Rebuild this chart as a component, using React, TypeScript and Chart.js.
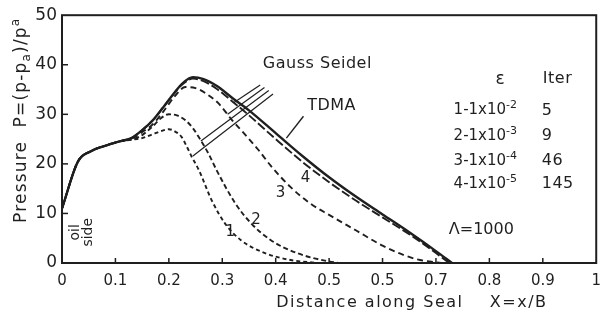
import React, { useEffect, useRef } from "react";
import { Chart, registerables } from "chart.js";

Chart.register(...registerables);

const INK = "#1f1f1f";
const FONT = "'DejaVu Sans', 'Liberation Sans', sans-serif";

// axis ticks
const xTickValues = [0, 0.1, 0.2, 0.3, 0.4, 0.5, 0.6, 0.7, 0.8, 0.9, 1];
const xTickLabels = ["0", "0.1", "0.2", "0.3", "0.4", "0.5", "0.5", "0.7", "0.8", "0.9", "1"];
const yTickValues = [0, 10, 20, 30, 40, 50];

// TDMA (solid)
const tdmaX = [0, 0.03, 0.055, 0.085, 0.11, 0.13, 0.15, 0.17, 0.19, 0.21, 0.225, 0.245, 0.265, 0.29, 0.32, 0.35, 0.4, 0.45, 0.5, 0.55, 0.6, 0.65, 0.7, 0.73];
const tdmaY = [11, 20.5, 22.6, 23.8, 24.6, 25.2, 26.8, 28.8, 31.5, 34.3, 36.2, 37.5, 37.1, 35.7, 33.2, 30.8, 26.2, 21.6, 17.3, 13.4, 9.8, 6.2, 2.4, 0];

// Gauss Seidel, curve 4 (eps 1e-5)
const gs4X = [0, 0.03, 0.055, 0.085, 0.11, 0.13, 0.15, 0.17, 0.19, 0.21, 0.225, 0.245, 0.265, 0.29, 0.32, 0.35, 0.4, 0.45, 0.5, 0.55, 0.6, 0.65, 0.7, 0.725];
const gs4Y = [11, 20.5, 22.6, 23.8, 24.6, 25.2, 26.8, 28.8, 31.5, 34.2, 36.0, 37.2, 36.7, 35.1, 32.5, 29.8, 25.0, 20.4, 16.3, 12.6, 9.2, 5.8, 2.0, 0];

// curve 3 (eps 1e-4)
const gs3X = [0, 0.03, 0.055, 0.085, 0.11, 0.13, 0.15, 0.17, 0.19, 0.21, 0.231, 0.25, 0.268, 0.293, 0.317, 0.342, 0.367, 0.391, 0.428, 0.465, 0.5, 0.55, 0.6, 0.64, 0.67, 0.71];
const gs3Y = [11, 20.5, 22.6, 23.8, 24.6, 25.1, 26.4, 28.0, 30.6, 33.5, 35.5, 35.3, 34.3, 32.2, 29.0, 26.0, 22.9, 19.6, 15.3, 12.0, 9.7, 6.6, 3.5, 1.6, 0.6, 0];

// curve 2 (eps 1e-3)
const gs2X = [0, 0.03, 0.055, 0.085, 0.11, 0.13, 0.15, 0.17, 0.185, 0.2, 0.215, 0.231, 0.245, 0.256, 0.274, 0.29, 0.324, 0.354, 0.391, 0.44, 0.5, 0.52];
const gs2Y = [11, 20.5, 22.6, 23.8, 24.6, 24.9, 25.8, 27.6, 29.2, 30.0, 29.8, 28.8, 27.2, 25.4, 22.1, 18.6, 12.1, 8.0, 4.6, 2.0, 0.3, 0];

// curve 1 (eps 1e-2)
const gs1X = [0, 0.03, 0.055, 0.085, 0.11, 0.13, 0.15, 0.17, 0.185, 0.2, 0.215, 0.224, 0.233, 0.243, 0.256, 0.28, 0.305, 0.335, 0.38, 0.428, 0.48];
const gs1Y = [11, 20.5, 22.6, 23.8, 24.6, 24.9, 25.2, 26.0, 26.6, 27.0, 26.3, 25.4, 23.6, 21.4, 18.8, 12.7, 8.0, 4.6, 2.0, 0.6, 0];

// legend table
const legendEps = ["1-1x10", "2-1x10", "3-1x10", "4-1x10"];
const legendExp = ["-2", "-3", "-4", "-5"];
const legendIter = ["5", "9", "46", "145"];

// curve number labels and their anchor points (data units)
const curveNames = ["1", "2", "3", "4"];
const curveNameX = [0.315, 0.363, 0.409, 0.456];
const curveNameY = [6.3, 8.7, 14.1, 17.1];

// leader lines from "Gauss Seidel" to curves, in data units
const leaderX1 = [0.245, 0.26, 0.31, 0.322];
const leaderY1 = [21.6, 24.6, 30.0, 32.4];
const leaderX2 = [0.395, 0.387, 0.379, 0.371];
const leaderY2 = [34.1, 34.8, 35.4, 35.9];

// TDMA pointer
const tdmaPointerX = [0.42, 0.452];
const tdmaPointerY = [25.2, 29.6];

const pts = (xs: number[], ys: number[]) => xs.map((x, i) => ({ x, y: ys[i] }));

type Run = { t: string; dy?: number; s?: number };

function drawRuns(
  ctx: CanvasRenderingContext2D,
  runs: Run[],
  x: number,
  y: number,
  size: number,
  align: "left" | "center",
  spacing = 0
) {
  (ctx as any).letterSpacing = `${spacing}px`;
  const widths = runs.map((r) => {
    ctx.font = `${Math.round(size * (r.s ?? 1))}px ${FONT}`;
    return ctx.measureText(r.t).width;
  });
  const total = widths.reduce((a, b) => a + b, 0);
  let cx = align === "center" ? x - total / 2 : x;
  ctx.textAlign = "left";
  ctx.textBaseline = "middle";
  runs.forEach((r, i) => {
    ctx.font = `${Math.round(size * (r.s ?? 1))}px ${FONT}`;
    ctx.fillText(r.t, cx, y + (r.dy ?? 0) * size);
    cx += widths[i];
  });
  (ctx as any).letterSpacing = "0px";
}

const decorPlugin = {
  id: "decor",
  afterDraw(chart: any) {
    const ctx: CanvasRenderingContext2D = chart.ctx;
    const { left, right, top, bottom } = chart.chartArea;
    const xs = chart.scales.x;
    const ys = chart.scales.y;
    const px = (v: number) => xs.getPixelForValue(v);
    const py = (v: number) => ys.getPixelForValue(v);
    ctx.save();
    ctx.strokeStyle = INK;
    ctx.fillStyle = INK;
    ctx.setLineDash([]);

    // frame
    ctx.lineWidth = 2;
    ctx.strokeRect(left, top, right - left, bottom - top);

    // inner ticks
    ctx.lineWidth = 1.5;
    xTickValues.slice(1, -1).forEach((v) => {
      ctx.beginPath();
      ctx.moveTo(px(v), bottom);
      ctx.lineTo(px(v), bottom - 5);
      ctx.stroke();
    });
    yTickValues.slice(1, -1).forEach((v) => {
      ctx.beginPath();
      ctx.moveTo(left, py(v));
      ctx.lineTo(left + 6, py(v));
      ctx.stroke();
    });

    // leader lines
    ctx.lineWidth = 1.2;
    leaderX1.forEach((_, i) => {
      ctx.beginPath();
      ctx.moveTo(px(leaderX1[i]), py(leaderY1[i]));
      ctx.lineTo(px(leaderX2[i]), py(leaderY2[i]));
      ctx.stroke();
    });
    ctx.lineWidth = 1.4;
    ctx.beginPath();
    ctx.moveTo(px(tdmaPointerX[0]), py(tdmaPointerY[0]));
    ctx.lineTo(px(tdmaPointerX[1]), py(tdmaPointerY[1]));
    ctx.stroke();

    // texts
    drawRuns(ctx, [{ t: "Gauss Seidel" }], px(0.376), py(40.1), 16, "left", 0.5);
    drawRuns(ctx, [{ t: "TDMA" }], px(0.459), py(31.7), 16, "left", 0.5);
    curveNames.forEach((n, i) => drawRuns(ctx, [{ t: n }], px(curveNameX[i]), py(curveNameY[i]), 15, "center"));

    drawRuns(ctx, [{ t: "ε" }], px(0.82), py(37.1), 17, "center");
    drawRuns(ctx, [{ t: "Iter" }], px(0.9), py(37.1), 16, "left", 0.5);
    const rowY = [30.8, 25.6, 20.6, 15.9];
    legendEps.forEach((e, i) => {
      drawRuns(ctx, [{ t: e }, { t: legendExp[i], dy: -0.35, s: 0.72 }], px(0.733), py(rowY[i]), 15, "left");
      drawRuns(ctx, [{ t: legendIter[i] }], px(0.898), py(rowY[i]), 16, "left", 0.5);
    });
    drawRuns(ctx, [{ t: "Λ=1000" }], px(0.724), py(6.7), 16, "left");

    // "oil side"
    ctx.save();
    ctx.translate(px(0.025), py(6.2));
    ctx.rotate(-Math.PI / 2);
    drawRuns(ctx, [{ t: "oil" }], 0, 0, 14, "center");
    ctx.restore();
    ctx.save();
    ctx.translate(px(0.049), py(6.2));
    ctx.rotate(-Math.PI / 2);
    drawRuns(ctx, [{ t: "side" }], 0, 0, 14, "center");
    ctx.restore();

    // axis titles
    ctx.save();
    ctx.translate(left - 40, py(28.8));
    ctx.rotate(-Math.PI / 2);
    drawRuns(
      ctx,
      [
        { t: "Pressure  P=(p-p" },
        { t: "a", dy: 0.3, s: 0.7 },
        { t: ")/p" },
        { t: "a", dy: -0.35, s: 0.7 },
      ],
      0,
      0,
      17,
      "center",
      1.2
    );
    ctx.restore();
    drawRuns(ctx, [{ t: "Distance along Seal    X=x/B" }], px(0.655), bottom + 40, 16, "center", 1.5);

    ctx.restore();
  },
};

export default function App() {
  const ref = useRef<HTMLCanvasElement | null>(null);
  useEffect(() => {
    document.body.style.margin = "0";
    const canvas = ref.current!;
    const common = { borderColor: INK, pointRadius: 0, fill: false, cubicInterpolationMode: "monotone" as const };
    const chart = new Chart(canvas, {
      type: "line",
      data: {
        datasets: [
          { ...common, label: "1", data: pts(gs1X, gs1Y), borderWidth: 1.9, borderDash: [4, 3] },
          { ...common, label: "2", data: pts(gs2X, gs2Y), borderWidth: 1.9, borderDash: [5, 3] },
          { ...common, label: "3", data: pts(gs3X, gs3Y), borderWidth: 1.9, borderDash: [6, 4] },
          { ...common, label: "4", data: pts(gs4X, gs4Y), borderWidth: 1.9, borderDash: [9, 3] },
          { ...common, label: "TDMA", data: pts(tdmaX, tdmaY), borderWidth: 2.4 },
        ],
      },
      options: {
        animation: false,
        responsive: false,
        events: [],
        layout: { padding: { top: 14, right: 9, left: 0, bottom: 0 } },
        plugins: { legend: { display: false }, tooltip: { enabled: false } },
        scales: {
          x: {
            type: "linear",
            min: 0,
            max: 1,
            afterBuildTicks: (s: any) => {
              s.ticks = xTickValues.map((v) => ({ value: v }));
            },
            afterFit: (s: any) => {
              s.height = 58;
            },
            grid: { display: false, drawTicks: false },
            border: { display: false },
            ticks: {
              padding: 9,
              color: INK,
              font: { family: FONT, size: 15 },
              maxRotation: 0,
              autoSkip: false,
              callback: (_v: any, i: number) => xTickLabels[i],
            },
          },
          y: {
            type: "linear",
            min: 0,
            max: 50,
            afterBuildTicks: (s: any) => {
              s.ticks = yTickValues.map((v) => ({ value: v }));
            },
            afterFit: (s: any) => {
              s.width = 62;
            },
            grid: { display: false, drawTicks: false },
            border: { display: false },
            ticks: {
              padding: 5,
              color: INK,
              font: { family: FONT, size: 17 },
              callback: (v: any) => String(v),
            },
          },
        },
      },
      plugins: [decorPlugin],
    });
    return () => chart.destroy();
  }, []);
  return (
    <div style={{ position: "fixed", left: 0, top: 0, width: 610, height: 321, background: "#fff" }}>
      <canvas ref={ref} width={610} height={321} style={{ width: 610, height: 321 }} />
    </div>
  );
}
